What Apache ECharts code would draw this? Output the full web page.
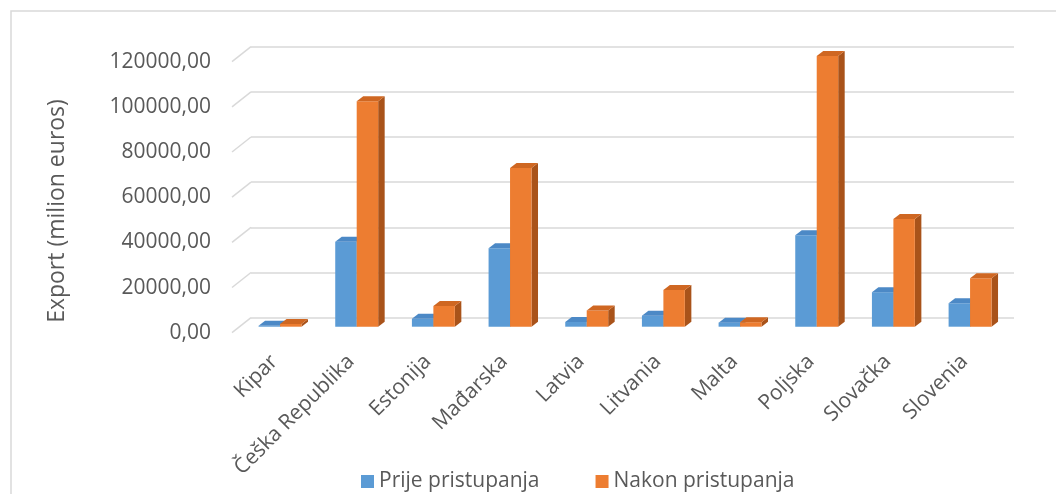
<!DOCTYPE html>
<html lang="hr">
  <head>
    <meta charset="UTF-8" />
    <title>Export</title>
    <script src="https://cdn.jsdelivr.net/npm/echarts@6/dist/echarts.min.js"></script>
    <style>
      html, body { margin: 0; padding: 0; background: #fff; }
      #chart { width: 1056px; height: 494px; }
    </style>
  </head>
  <body>
    <div id="chart"></div>
    <script>
      // podaci
      const countries = [
        "Kipar", "Češka Republika", "Estonija", "Mađarska", "Latvia",
        "Litvania", "Malta", "Poljska", "Slovačka", "Slovenia",
      ];
      const beforeAccession = [400, 37700, 3500, 34800, 2100, 4900, 1800, 40600, 15300, 10400];
      const afterAccession = [1200, 100000, 9200, 70400, 7200, 16300, 2000, 120000, 47800, 21500];
      const yTicks = [0, 20000, 40000, 60000, 80000, 100000, 120000];

      const TEXT = "#595959";
      const FONT = "Open Sans";
      const COLORS = {
        blue: { front: "#5B9BD5", top: "#4C89C6", side: "#3F75AA" },
        orange: { front: "#ED7D31", top: "#CF6722", side: "#A9531A" },
      };
      // pomak dubine stupca (px)
      const DEPTH = { dx: 6.5, dy: 5 };

      const barRenderer = (slot, pal) => (params, api) => {
        const idx = api.value(0);
        const top = api.coord([idx, api.value(1)]);
        const base = api.coord([idx, 0]);
        const band = api.size([1, 0])[0];
        const w = band * 0.28;
        const x0 = slot === 0 ? top[0] - w : top[0];
        const x1 = x0 + w;
        const yT = top[1];
        const yB = base[1];
        const { dx, dy } = DEPTH;
        return {
          type: "group",
          children: [
            {
              type: "polygon",
              shape: { points: [[x1, yT], [x1 + dx, yT - dy], [x1 + dx, yB - dy], [x1, yB]] },
              style: { fill: pal.side },
            },
            {
              type: "rect",
              shape: { x: x0, y: yT, width: w, height: yB - yT },
              style: { fill: pal.front },
            },
            {
              type: "polygon",
              shape: { points: [[x0, yT], [x0 + dx, yT - dy], [x1 + dx, yT - dy], [x1, yT]] },
              style: { fill: pal.top },
            },
          ],
        };
      };

      const chart = echarts.init(document.getElementById("chart"));
      chart.setOption({
        animation: false,
        backgroundColor: "#fff",
        textStyle: { fontFamily: FONT, color: TEXT },
        graphic: [
          {
            type: "rect",
            shape: { x: 11, y: 11, width: 1100, height: 600 },
            style: { fill: null, stroke: "#d9d9d9", lineWidth: 1.5 },
            silent: true,
          },
          {
            type: "text",
            x: 57,
            y: 211,
            rotation: Math.PI / 2,
            style: {
              text: "Export (milion euros)",
              font: `23px "${FONT}"`,
              fill: TEXT,
              align: "center",
              verticalAlign: "middle",
            },
          },
        ],
        legend: {
          left: 356,
          top: 466,
          icon: "rect",
          itemWidth: 13,
          itemHeight: 13,
          itemGap: 56,
          textStyle: { fontFamily: FONT, fontSize: 21, color: TEXT },
          data: ["Prije pristupanja", "Nakon pristupanja"],
        },
        grid: [
          { left: 251, top: 46.7, width: 763, height: 271, outerBoundsMode: "none" },
          { left: 241.7, top: 56.1, width: 766.7, height: 270.6, outerBoundsMode: "none" },
          { left: 232, top: 61.7, width: 763, height: 271, outerBoundsMode: "none" },
        ],
        xAxis: [
          { type: "value", gridIndex: 0, min: 0, max: 1, show: false },
          {
            type: "category",
            gridIndex: 1,
            data: countries,
            axisLine: { show: false },
            axisTick: { show: false },
            axisLabel: {
              rotate: 45,
              margin: 26,
              padding: [0, 8, 0, 0],
              interval: 0,
              fontFamily: FONT,
              fontSize: 21,
              color: TEXT,
            },
          },
          { type: "value", gridIndex: 2, min: 0, max: 1, show: false },
        ],
        yAxis: [
          {
            type: "value",
            gridIndex: 0,
            min: 0,
            max: 120000,
            interval: 20000,
            axisLine: { show: false },
            axisTick: { show: false },
            axisLabel: { show: false },
            splitLine: { lineStyle: { color: "#d9d9d9", width: 1.5 } },
          },
          { type: "value", gridIndex: 1, min: 0, max: 120000, show: false },
          {
            type: "value",
            gridIndex: 2,
            min: 0,
            max: 120000,
            interval: 20000,
            axisLine: { show: false },
            axisTick: { show: false },
            splitLine: { show: false },
            axisLabel: {
              margin: 21,
              fontFamily: FONT,
              fontSize: 21,
              color: TEXT,
              formatter: (v) => v.toFixed(2).replace(".", ","),
            },
          },
        ],
        series: [
          {
            type: "custom",
            name: "floor",
            xAxisIndex: 0,
            yAxisIndex: 0,
            silent: true,
            data: yTicks.map((v) => [0, v]),
            renderItem: (params, api) => {
              const p = api.coord([0, api.value(1)]);
              return {
                type: "line",
                shape: { x1: p[0], y1: p[1], x2: p[0] - 19, y2: p[1] + 15 },
                style: { stroke: "#d9d9d9", lineWidth: 1.5 },
              };
            },
          },
          {
            type: "custom",
            name: "Prije pristupanja",
            xAxisIndex: 1,
            yAxisIndex: 1,
            itemStyle: { color: COLORS.blue.front },
            data: beforeAccession.map((v, i) => [i, v]),
            renderItem: barRenderer(0, COLORS.blue),
          },
          {
            type: "custom",
            name: "Nakon pristupanja",
            xAxisIndex: 1,
            yAxisIndex: 1,
            itemStyle: { color: COLORS.orange.front },
            data: afterAccession.map((v, i) => [i, v]),
            renderItem: barRenderer(1, COLORS.orange),
          },
        ],
      });
    </script>
  </body>
</html>
